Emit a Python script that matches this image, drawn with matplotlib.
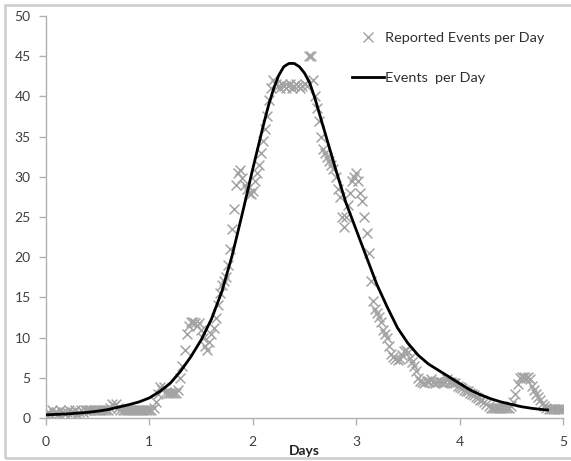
import numpy as np
import matplotlib
matplotlib.use("Agg")
import matplotlib.pyplot as plt
from matplotlib.patches import Rectangle
from matplotlib.lines import Line2D

# Reported events per day, sampled every 0.02 days from 0 to 5
report_start = 0.0
report_step = 0.02
reported = [
    0.5, 0.8, 0.5, 1.0, 0.6, 0.8, 0.5, 1.0, 0.8, 0.5,      # 0.00-0.18
    0.8, 1.0, 0.6, 0.8, 1.0, 0.5, 0.8, 1.0, 0.8, 1.0,      # 0.20-0.38
    1.0, 1.0, 1.0, 1.0, 1.0, 1.0, 1.0, 1.0, 1.0, 1.0,      # 0.40-0.58
    1.0, 1.2, 1.7, 1.5, 1.7, 1.2, 1.0, 1.0, 1.0, 1.0,      # 0.60-0.78
    1.0, 1.0, 1.0, 1.0, 1.0, 1.0, 1.0, 1.0, 1.0, 1.0,      # 0.80-0.98
    1.0, 1.0, 1.2, 2.0, 3.0, 3.8, 3.5, 3.8, 3.2, 3.1,      # 1.00-1.18
    3.1, 3.1, 3.1, 3.1, 3.5, 5.0, 6.5, 8.5, 10.5, 11.5,    # 1.20-1.38
    12.0, 12.0, 11.8, 11.5, 11.8, 11.0, 10.0, 9.0, 8.5, 9.5,  # 1.40-1.58
    10.5, 11.2, 12.5, 14.0, 15.5, 16.5, 17.0, 17.5, 19.0, 21.0,  # 1.60-1.78
    23.5, 26.0, 29.0, 30.5, 30.8, 29.8, 29.0, 28.5, 28.0, 27.8,  # 1.80-1.98
    28.2, 29.5, 30.5, 31.5, 33.0, 34.5, 36.0, 37.5, 39.5, 41.0,  # 2.00-2.18
    42.0, 41.5, 41.3, 41.0, 41.5, 41.3, 41.0, 41.3, 41.5, 41.0,  # 2.20-2.38
    41.3, 41.5, 41.3, 41.0, 41.3, 41.5, 41.3, 45.0, 45.0, 42.0,  # 2.40-2.58
    40.0, 38.5, 37.0, 35.0, 33.5, 33.0, 32.5, 32.0, 31.5, 31.0,  # 2.60-2.78
    30.0, 28.5, 27.5, 25.0, 23.8, 25.0, 26.5, 28.0, 29.5, 30.0,  # 2.80-2.98
    30.5, 29.5, 28.0, 27.0, 25.0, 23.0, 20.5, 17.0, 14.5, 13.5,  # 3.00-3.18
    13.0, 12.6, 12.0, 11.0, 10.5, 10.0, 9.0, 8.0, 7.6, 7.3,      # 3.20-3.38
    7.2, 7.4, 7.8, 8.3, 8.5, 8.2, 7.5, 7.0, 6.5, 5.8,            # 3.40-3.58
    5.0, 4.6, 4.5, 4.3, 4.6, 4.5, 4.8, 4.5, 4.3, 4.5,            # 3.60-3.78
    4.6, 4.5, 4.3, 4.5, 4.8, 4.5, 4.5, 4.3, 4.3, 4.0,            # 3.80-3.98
    3.9, 3.7, 3.5, 3.4, 3.3, 3.1, 3.0, 2.8, 2.6, 2.5,            # 4.00-4.18
    2.3, 2.2, 2.0, 1.8, 1.5, 1.2, 1.2, 1.2, 1.2, 1.2,            # 4.20-4.38
    1.2, 1.2, 1.2, 1.2, 1.2, 1.5, 2.0, 3.0, 4.2, 5.0,            # 4.40-4.58
    5.1, 5.1, 5.0, 5.1, 4.8, 4.0, 3.5, 3.0, 2.6, 2.2,            # 4.60-4.78
    1.8, 1.5, 1.3, 1.1, 1.1, 1.1, 1.1, 1.1, 1.1, 1.1,            # 4.80-4.98
    1.1,                                                         # 5.00
]
report_days = np.round(report_start + report_step * np.arange(len(reported)), 4)

# Fitted events per day curve
curve_days = [0.0, 0.1, 0.2, 0.3, 0.4, 0.5, 0.6, 0.7, 0.8, 0.9,
              1.0, 1.1, 1.2, 1.3, 1.4, 1.5, 1.6, 1.7, 1.8, 1.9,
              2.0, 2.1, 2.15, 2.2, 2.25, 2.3, 2.35, 2.4, 2.45, 2.5,
              2.55, 2.6, 2.7, 2.8, 2.9, 3.0, 3.1, 3.2, 3.3, 3.4,
              3.5, 3.6, 3.7, 3.8, 3.9, 4.0, 4.1, 4.2, 4.3, 4.4,
              4.5, 4.6, 4.7, 4.8, 4.85]
curve_vals = [0.4, 0.45, 0.5, 0.6, 0.7, 0.85, 1.05, 1.35, 1.65, 2.0,
              2.5, 3.3, 4.3, 5.8, 7.6, 9.7, 12.3, 15.7, 20.2, 25.5,
              31.0, 36.3, 38.8, 40.9, 42.6, 43.7, 44.1, 44.1, 43.7, 42.9,
              41.7, 39.8, 35.4, 31.0, 26.8, 23.4, 20.0, 16.6, 13.8, 11.2,
              9.3, 7.8, 6.7, 5.9, 5.1, 4.3, 3.5, 2.9, 2.4, 2.0,
              1.7, 1.4, 1.2, 1.05, 1.0]

x_ticks = [0, 1, 2, 3, 4, 5]
y_ticks = [0, 5, 10, 15, 20, 25, 30, 35, 40, 45, 50]
label_scatter = "Reported Events per Day"
label_curve = "Events  per Day"
x_label = "Days"

plt.rcParams['font.family'] = ['Lato', 'DejaVu Sans']

W, H = 571, 461
fig = plt.figure(figsize=(W / 100, H / 100), dpi=100)
fig.patch.set_facecolor('white')
fig.patches.append(Rectangle((5 / W, 3 / H), 1.0, (453 / H), transform=fig.transFigure,
                             fill=False, edgecolor='#d0d0d0', linewidth=2.0, zorder=0))

ax = fig.add_axes([46 / W, 43 / H, (563 - 46) / W, (418 - 16) / H])
ax.scatter(report_days, reported, marker='x', s=50, linewidths=1.1,
           color='#a3a3a3', zorder=2)
ax.plot(curve_days, curve_vals, color='black', linewidth=2.0, zorder=3)

ax.set_xlim(0, 5)
ax.set_ylim(0, 50)
ax.set_xticks(x_ticks)
ax.set_yticks(y_ticks)
for s in ['top', 'right']:
    ax.spines[s].set_visible(False)
for s in ['left', 'bottom']:
    ax.spines[s].set_color('#b0b0b0')
    ax.spines[s].set_linewidth(1.0)
ax.tick_params(axis='both', colors='#b0b0b0', labelcolor='#404040',
               labelsize=10, length=5, width=1.0, direction='out')
ax.tick_params(axis='x', pad=8)
ax.tick_params(axis='y', pad=6)
ax.set_xlabel(x_label, fontsize=10, fontweight='bold', color='#202020', labelpad=-2)

handles = [Line2D([], [], marker='x', linestyle='none', color='#a3a3a3',
                  markersize=7, markeredgewidth=1.0),
           Line2D([], [], color='black', linewidth=2.0)]
leg = ax.legend(handles, [label_scatter, label_curve], loc='upper right',
                bbox_to_anchor=(0.975, 0.975), frameon=False, fontsize=10.4,
                labelspacing=1.95, handlelength=2.2, handletextpad=0.1,
                borderaxespad=0.0, labelcolor='#303030')

fig.savefig('out.png', dpi=100, facecolor='white')
